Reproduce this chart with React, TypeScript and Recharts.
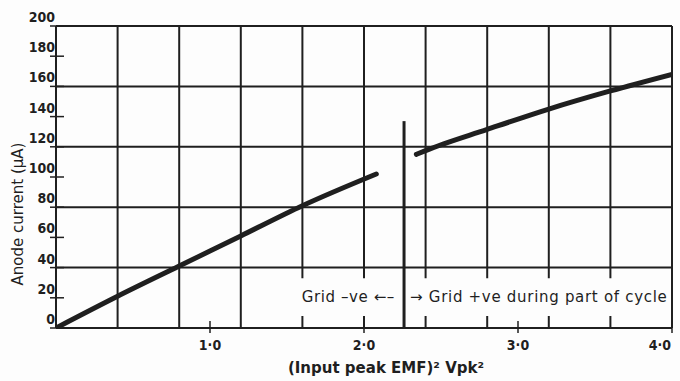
import React, { useEffect } from 'react';
import {
  LineChart,
  Line,
  XAxis,
  YAxis,
  CartesianGrid,
  ReferenceArea,
} from 'recharts';

// grid negative part of the curve
const lowX = [0, 0.4, 0.8, 1.2, 1.6, 2.08];
const lowY = [0, 21, 41, 61, 81, 102];

// vertical marker at the changeover
const markX = [2.26, 2.26];
const markY = [0, 137];

// grid positive during part of cycle
const highX = [2.34, 2.4, 2.8, 3.2, 3.6, 4.0];
const highY = [115, 117.5, 131.5, 145, 157, 168];

const xTicks = [1, 2, 3, 4];
const yTicks = [0, 20, 40, 60, 80, 100, 120, 140, 160, 180, 200];
const gridX = [0, 0.4, 0.8, 1.2, 1.6, 2.0, 2.4, 2.8, 3.2, 3.6, 4.0];
const gridY = [0, 40, 80, 120, 160, 200];

const toPoints = (xs: number[], ys: number[]) => xs.map((x, i) => ({ x, y: ys[i] }));

const INK = '#1f1f1f';
const PAPER = '#fdfdfd';
const FONT = '"DejaVu Sans", sans-serif';
const NUM_FONT = '"DejaVu Sans Condensed", "DejaVu Sans", sans-serif';

const YTick = ({ x, y, payload }: any) => (
  <g>
    <line x1={x - 6} x2={x + 8} y1={y} y2={y} stroke={INK} strokeWidth={1.5} />
    <text
      x={x - 1}
      y={y - 4}
      textAnchor="end"
      fontSize={14}
      fontWeight={600}
      fontFamily={NUM_FONT}
      fill={INK}
    >
      {payload.value}
    </text>
  </g>
);

const XTick = ({ x, y, payload }: any) => {
  const last = payload.value === 4;
  return (
    <g>
      <line x1={x} x2={x} y1={y - 7} y2={y + 5} stroke={INK} strokeWidth={1.5} />
      <text
        x={last ? x - 1 : x}
        y={y + 22}
        textAnchor={last ? 'end' : 'middle'}
        fontSize={14}
        fontWeight={600}
        fontFamily={NUM_FONT}
        fill={INK}
      >
        {payload.value.toFixed(1).replace('.', '·')}
      </text>
    </g>
  );
};

const App = () => {
  useEffect(() => {
    document.body.style.margin = '0';
    document.body.style.background = PAPER;
  }, []);

  return (
    <div style={{ width: 680, height: 381, background: PAPER }}>
      <LineChart width={680} height={381} margin={{ top: 26, right: 8, left: 0, bottom: 0 }}>
        <CartesianGrid
          stroke={INK}
          strokeWidth={2}
          verticalValues={gridX}
          horizontalValues={gridY}
        />
        <XAxis
          type="number"
          dataKey="x"
          domain={[0, 4]}
          ticks={xTicks}
          axisLine={false}
          tickLine={false}
          tickSize={0}
          tickMargin={0}
          height={53}
          tick={<XTick />}
          allowDataOverflow
          label={{
            content: ({ viewBox }: any) => (
              <text
                x={viewBox.x + viewBox.width / 2 + 22}
                y={viewBox.y + 45}
                textAnchor="middle"
                fontSize={15}
                fontWeight="bold"
                fontFamily={FONT}
                fill={INK}
              >
                (Input peak EMF)² Vpk²
              </text>
            ),
          }}
        />
        <YAxis
          type="number"
          domain={[0, 200]}
          ticks={yTicks}
          axisLine={false}
          tickLine={false}
          tickSize={0}
          tickMargin={0}
          width={56}
          tick={<YTick />}
          allowDataOverflow
          label={{
            content: ({ viewBox }: any) => {
              const cx = 18;
              const cy = viewBox.y + viewBox.height / 2 + 37;
              return (
                <text
                  x={cx}
                  y={cy}
                  transform={`rotate(-90 ${cx} ${cy})`}
                  textAnchor="middle"
                  dominantBaseline="central"
                  fontSize={15}
                  fontFamily={FONT}
                  fill={INK}
                >
                  Anode current (μA)
                </text>
              );
            },
          }}
        />
        <ReferenceArea
          x1={1.52}
          x2={2.24}
          y1={8}
          y2={33}
          fill={PAPER}
          fillOpacity={1}
          stroke="none"
          label={{
            value: 'Grid –ve ←–',
            position: 'insideRight',
            offset: 6,
            fontSize: 15,
            letterSpacing: 0.6,
            fontFamily: FONT,
            fill: INK,
          }}
        />
        <ReferenceArea
          x1={2.28}
          x2={3.985}
          y1={8}
          y2={33}
          fill={PAPER}
          fillOpacity={1}
          stroke="none"
          label={{
            value: '→ Grid +ve during part of cycle',
            position: 'insideLeft',
            offset: 3,
            fontSize: 15,
            letterSpacing: 0.7,
            fontFamily: FONT,
            fill: INK,
          }}
        />
        <Line
          data={toPoints(lowX, lowY)}
          dataKey="y"
          type="monotone"
          stroke={INK}
          strokeWidth={5}
          strokeLinecap="round"
          dot={false}
          isAnimationActive={false}
        />
        <Line
          data={toPoints(markX, markY)}
          dataKey="y"
          type="linear"
          stroke={INK}
          strokeWidth={3}
          dot={false}
          isAnimationActive={false}
        />
        <Line
          data={toPoints(highX, highY)}
          dataKey="y"
          type="monotone"
          stroke={INK}
          strokeWidth={5}
          strokeLinecap="round"
          dot={false}
          isAnimationActive={false}
        />
      </LineChart>
    </div>
  );
};

export default App;
